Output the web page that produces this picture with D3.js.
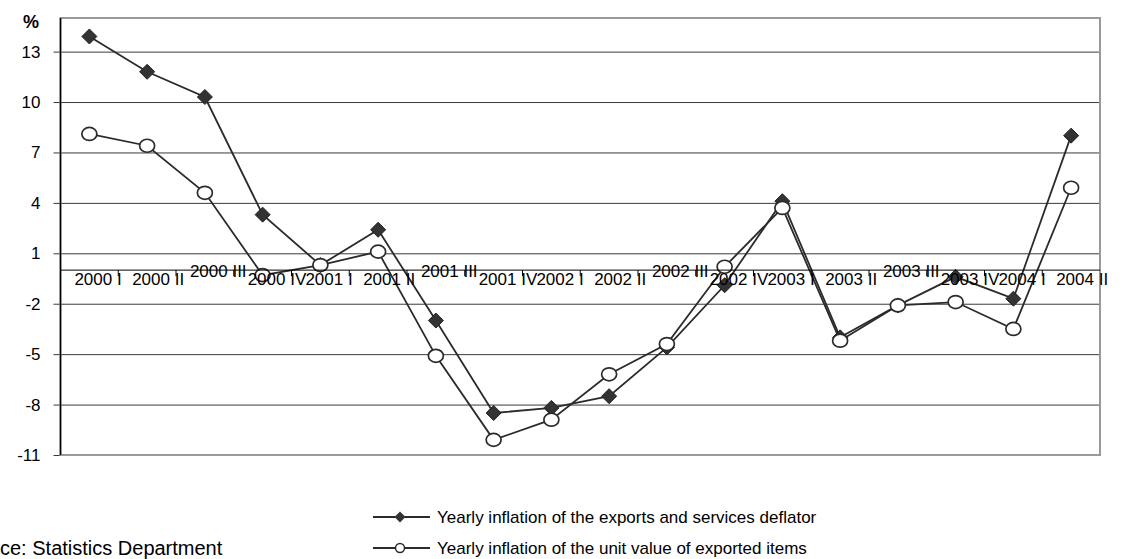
<!DOCTYPE html>
<html>
<head>
<meta charset="utf-8">
<script src="https://cdn.jsdelivr.net/npm/d3@7"></script>
<style>
  html, body { margin: 0; padding: 0; background: #fff; }
  svg { display: block; font-family: "Liberation Sans", Arial, sans-serif; }
</style>
</head>
<body>
<svg id="chart" width="1125" height="559"></svg>
<script>
// Quarterly periods
const quarters = [
  "2000 I", "2000 II", "2000 III", "2000 IV",
  "2001 I", "2001 II", "2001 III", "2001 IV",
  "2002 I", "2002 II", "2002 III", "2002 IV",
  "2003 I", "2003 II", "2003 III", "2003 IV",
  "2004 I", "2004 II"
];

// Yearly inflation of the exports and services deflator (%)
const deflator = [13.9, 11.8, 10.3, 3.3, 0.3, 2.4, -3.0, -8.5, -8.2, -7.5, -4.6, -0.9, 4.1, -4.0, -2.1, -0.4, -1.7, 8.0];

// Yearly inflation of the unit value of exported items (%)
const unitValue = [8.1, 7.4, 4.6, -0.3, 0.3, 1.1, -5.1, -10.1, -8.9, -6.2, -4.4, 0.2, 3.7, -4.2, -2.1, -1.9, -3.5, 4.9];

const yTicks = [-11, -8, -5, -2, 1, 4, 7, 10, 13];

const seriesNames = [
  "Yearly inflation of the exports and services deflator",
  "Yearly inflation of the unit value of exported items"
];

const sourceText = "Source: Statistics Department";

const svg = d3.select("#chart");
const plotLeft = 60.5, plotRight = 1100, plotTop = 18, plotBottom = 455;
const fontSize = 17;
const sourceFontSize = 20;
const ink = "#2b2b2b";

const x = d3.scaleBand().domain(quarters).range([plotLeft, plotRight]).paddingInner(0).paddingOuter(0);
const y = d3.scaleLinear().domain([-11, 15]).range([plotBottom, plotTop]);
const cx = d => x(d) + x.bandwidth() / 2;

// Horizontal gridlines with left tick marks and labels
const yAxis = d3.axisLeft(y).tickValues(yTicks).tickSize(-(plotRight - plotLeft)).tickFormat(d => String(d));
const gy = svg.append("g").attr("transform", `translate(${plotLeft},0)`).call(yAxis);
gy.select(".domain").remove();
gy.selectAll(".tick line").attr("stroke", "#3a3a3a").attr("stroke-width", 1).attr("x1", -7);
gy.selectAll(".tick text").attr("font-size", fontSize).attr("fill", "#000").attr("x", -20)
  .style("font-family", "'Liberation Sans', Arial, sans-serif");

// Plot frame
svg.append("rect")
  .attr("x", plotLeft).attr("y", plotTop).attr("width", plotRight - plotLeft).attr("height", plotBottom - plotTop)
  .attr("fill", "none").attr("stroke", "#9a9a9a").attr("stroke-width", 2);

// Value axis line
svg.append("line").attr("x1", plotLeft).attr("x2", plotLeft).attr("y1", plotTop).attr("y2", plotBottom)
  .attr("stroke", "#000").attr("stroke-width", 1.5);

// "%" unit label
svg.append("text").attr("x", 23).attr("y", 28).attr("font-size", 18).attr("font-weight", "bold").text("%");

// Data lines
const line = d3.line().x((d, i) => cx(quarters[i])).y(d => y(d));
svg.append("path").datum(unitValue).attr("d", line)
  .attr("fill", "none").attr("stroke", ink).attr("stroke-width", 1.8);
svg.append("path").datum(deflator).attr("d", line)
  .attr("fill", "none").attr("stroke", ink).attr("stroke-width", 1.8);

const diamond = (s) => `M0,${-s}L${s},0L0,${s}L${-s},0Z`;

svg.append("g").selectAll("path").data(deflator).join("path")
  .attr("transform", (d, i) => `translate(${cx(quarters[i])},${y(d)})`)
  .attr("d", diamond(7.5)).attr("fill", "#333").attr("stroke", "#222").attr("stroke-width", 1);

svg.append("g").selectAll("ellipse").data(unitValue).join("ellipse")
  .attr("cx", (d, i) => cx(quarters[i])).attr("cy", d => y(d))
  .attr("rx", 7.5).attr("ry", 6.5)
  .attr("fill", "#fff").attr("stroke", ink).attr("stroke-width", 1.7);

// Category axis at zero, with ticks on category boundaries
const y0 = y(0);
svg.append("line").attr("x1", plotLeft).attr("x2", plotRight).attr("y1", y0).attr("y2", y0)
  .attr("stroke", "#000").attr("stroke-width", 1);
svg.append("g").selectAll("line").data(quarters.slice(1)).join("line")
  .attr("x1", d => x(d)).attr("x2", d => x(d)).attr("y1", y0).attr("y2", y0 + 6)
  .attr("stroke", "#000").attr("stroke-width", 1);
svg.append("g").selectAll("text").data(quarters).join("text")
  .attr("x", d => cx(d) - 15)
  .attr("y", d => d.endsWith(" III") ? y0 + 7 : y0 + 15)
  .attr("font-size", fontSize).attr("fill", "#000")
  .text(d => d);

// Legend
const lg = svg.append("g");
const legendRows = [
  { name: seriesNames[0], y: 517, marker: "diamond" },
  { name: seriesNames[1], y: 548, marker: "circle" }
];
legendRows.forEach(r => {
  lg.append("line").attr("x1", 373).attr("x2", 430).attr("y1", r.y).attr("y2", r.y)
    .attr("stroke", ink).attr("stroke-width", 1.8);
  if (r.marker === "diamond") {
    lg.append("path").attr("transform", `translate(400,${r.y})`).attr("d", diamond(5.5))
      .attr("fill", "#333");
  } else {
    lg.append("circle").attr("cx", 400).attr("cy", r.y).attr("r", 4.5)
      .attr("fill", "#fff").attr("stroke", ink).attr("stroke-width", 1.5);
  }
  lg.append("text").attr("x", 437).attr("y", r.y + 6).attr("font-size", fontSize).text(r.name);
});

// Source note; the page edge crops its first word
const src = svg.append("text").attr("y", 555).attr("font-size", sourceFontSize).text(sourceText);
const probe = svg.append("text").attr("font-size", sourceFontSize).text("Sour");
const cropW = probe.node().getComputedTextLength();
probe.remove();
src.attr("x", -cropW);
</script>
</body>
</html>
